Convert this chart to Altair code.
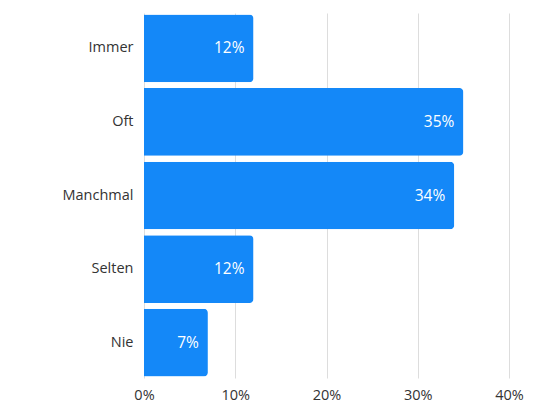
import altair as alt
import pandas as pd

categories = ["Immer", "Oft", "Manchmal", "Selten", "Nie"]
values = [12, 35, 34, 12, 7]
labels = ["12%", "35%", "34%", "12%", "7%"]

df = pd.DataFrame({"cat": categories, "val": [v / 100 for v in values], "lab": labels})

FONT = "Open Sans"
BLUE = "#1488f8"

x = alt.X("val:Q", scale=alt.Scale(domain=[0, 0.4], nice=False),
          axis=alt.Axis(format=".0%", values=[0, 0.1, 0.2, 0.3, 0.4], title=None,
                        grid=True, gridColor="#dddddd", gridWidth=1, domain=False, ticks=False,
                        labelFlush=False, labelFont=FONT, labelFontSize=14.5,
                        labelColor="#333333", labelPadding=10))
y = alt.Y("cat:N", sort=categories,
          scale=alt.Scale(paddingInner=0.08, paddingOuter=0.02),
          axis=alt.Axis(title=None, domain=False, ticks=False, grid=False,
                        labelFont=FONT, labelFontSize=14.5, labelColor="#333333", labelPadding=11))

bars = alt.Chart(df).mark_bar(color=BLUE, cornerRadiusTopRight=4, cornerRadiusBottomRight=4).encode(x=x, y=y)
text = alt.Chart(df).mark_text(align="right", baseline="middle", dx=-9, color="white",
                               font=FONT, fontSize=15.5).encode(x="val:Q", y=alt.Y("cat:N", sort=categories), text="lab:N")

chart = (bars + text).properties(
    width=365, height=365,
    background="white",
    autosize=alt.AutoSizeParams(type="none"),
    padding={"left": 136, "top": 5, "right": 30, "bottom": 40},
).configure_view(stroke=None)

chart.save("out.html", embed_options={"renderer": "svg", "actions": False})
